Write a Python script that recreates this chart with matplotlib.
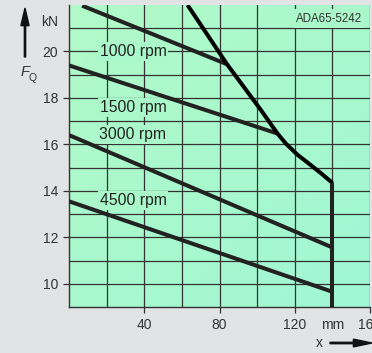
import matplotlib
matplotlib.use("Agg")
import matplotlib.pyplot as plt
import numpy as np

plt.rcParams['font.family'] = ['Liberation Sans', 'DejaVu Sans']

# Data
speed_labels = ["1000 rpm", "1500 rpm", "3000 rpm", "4500 rpm"]
x_1000 = [7, 84]
y_1000 = [21.97, 19.45]
x_1500 = [0, 110.7]
y_1500 = [19.4, 16.47]
x_3000 = [0, 139.5]
y_3000 = [16.4, 11.58]
x_4500 = [0, 139.5]
y_4500 = [13.55, 9.67]
env_x = [63, 84, 102, 110.7, 115.2, 121.5, 128.5, 134.5, 139.2, 140]
env_y = [22.0, 19.45, 17.48, 16.48, 16.04, 15.55, 15.11, 14.72, 14.4, 14.32]
limit_x = [140, 140]
limit_y = [14.32, 9.0]
label_y = [20.0, 17.6, 16.44, 13.58]
x_ticks = [40, 80, 120, 160]
x_tick_labels = ["40", "80", "120", "160"]
y_ticks = [10, 12, 14, 16, 18, 20]
y_tick_labels = ["10", "12", "14", "16", "18", "20"]

BG = "#e2e3e5"
GREEN = "#aaf7c9"

fig = plt.figure(figsize=(3.72, 3.53), dpi=100, facecolor=BG)
ax = fig.add_axes([69/372, 1-307/353, (370-69)/372, (307-5)/353])
ax.set_xlim(0, 160)
ax.set_ylim(9, 22)

# gradient background
grad = np.linspace(0, 1, 256)
gx, gy = np.meshgrid(grad, grad)
t = (gx + gy) / 2
c1 = np.array([178, 250, 200]) / 255
c2 = np.array([160, 247, 212]) / 255
img = c1[None, None, :] * (1 - t[..., None]) + c2[None, None, :] * t[..., None]
ax.imshow(img, extent=[0, 160, 9, 22], aspect='auto', zorder=0, origin='upper')

# grid
for gxv in range(20, 161, 20):
    ax.plot([gxv, gxv], [9, 22], color="#333333", lw=0.9, zorder=1)
for gyv in range(10, 22):
    ax.plot([0, 160], [gyv, gyv], color="#333333", lw=0.9, zorder=1)

lc = "#222222"
lw = 2.9
ax.plot(x_1000, y_1000, color=lc, lw=lw, zorder=3, solid_capstyle='butt')
ax.plot(x_1500, y_1500, color=lc, lw=lw, zorder=3, solid_capstyle='butt')
ax.plot(x_3000, y_3000, color=lc, lw=lw, zorder=3, solid_capstyle='butt')
ax.plot(x_4500, y_4500, color=lc, lw=lw, zorder=3, solid_capstyle='butt')
ax.plot(env_x, env_y, color="black", lw=lw, zorder=4, solid_capstyle='butt', solid_joinstyle='round')
ax.plot(limit_x, limit_y, color=lc, lw=lw, zorder=4, solid_capstyle='butt')

for lab, ly in zip(speed_labels, label_y):
    ax.text(34, ly, lab, ha='center', va='center', fontsize=11.3, color="#222222", zorder=2,
            bbox=dict(boxstyle='square,pad=0.12', fc=GREEN, ec='none'))

ax.text(0.975, 0.975, "ADA65-5242", transform=ax.transAxes, ha='right', va='top',
        fontsize=8.3, color="#333333", zorder=2,
        bbox=dict(boxstyle='square,pad=0.3', fc=GREEN, ec='none'))

for s in ['top', 'right']:
    ax.spines[s].set_visible(False)
for s in ['left', 'bottom']:
    ax.spines[s].set_color("#333333")
    ax.spines[s].set_linewidth(1.0)

ax.set_xticks(x_ticks)
ax.set_xticklabels(x_tick_labels)
ax.set_yticks(y_ticks)
ax.set_yticklabels(y_tick_labels)
ax.tick_params(direction='out', length=4.3, width=0.9, color="#333333",
               labelsize=10, labelcolor="#333333", pad=3.5)

# unit labels as label-only minor ticks
ax.set_xticks([140], minor=True)
ax.set_xticklabels(["mm"], minor=True)
ax.set_yticks([21.33], minor=True)
ax.set_yticklabels(["kN"], minor=True)
ax.tick_params(which='minor', length=0, labelsize=10, labelcolor="#333333", pad=3.5 + 4.3)

fig.text(24.5/372, 1-72/353, "F", ha='center', va='center', fontsize=10.5, color="#333333",
         fontstyle='italic')
fig.text(33/372, 1-78/353, "Q", ha='center', va='center', fontsize=7.5, color="#333333")
fig.text(319/372, 1-343/353, "x", ha='center', va='center', fontsize=10, color="#333333")

# arrows
fig.patches.append(matplotlib.patches.FancyArrow(
    25/372, 1-57/353, 0, (57-8)/353, width=0.0035, head_width=0.022, head_length=0.05,
    length_includes_head=True, transform=fig.transFigure, color="#111111", figure=fig))
fig.patches.append(matplotlib.patches.FancyArrow(
    330/372, 1-343/353, (372-330)/372, 0, width=0.004, head_width=0.022, head_length=0.05,
    length_includes_head=True, transform=fig.transFigure, color="#111111", figure=fig))

fig.savefig("out.png", dpi=100, facecolor=BG)
